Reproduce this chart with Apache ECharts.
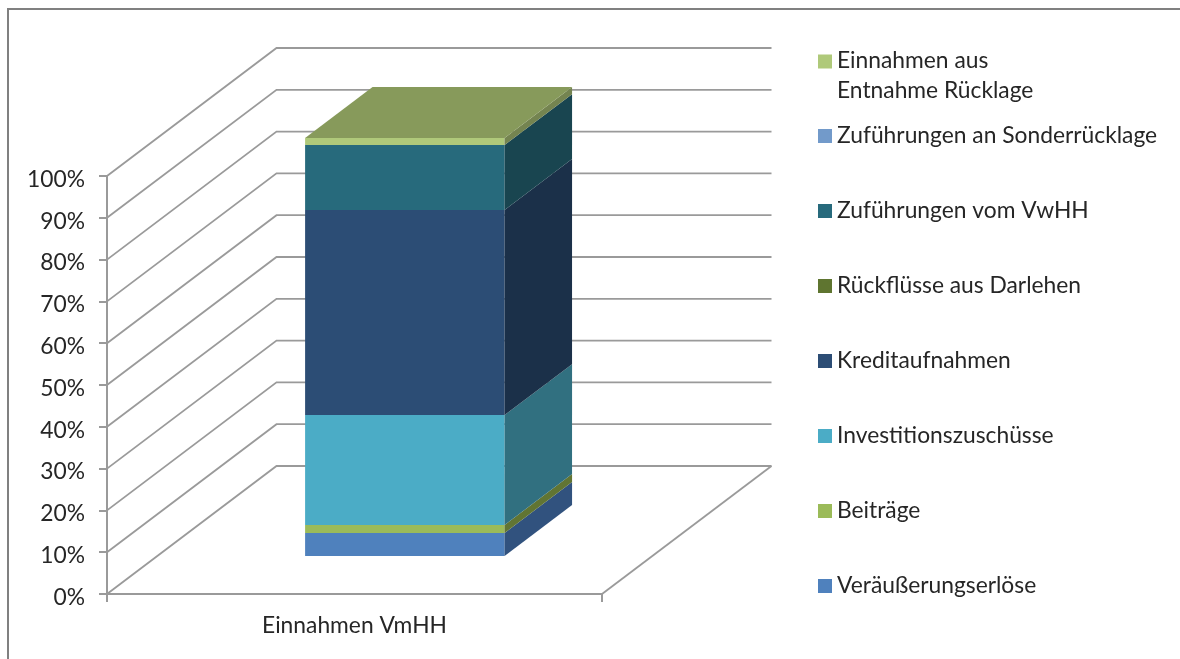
<!DOCTYPE html>
<html>
<head>
<meta charset="utf-8">
<style>html,body{margin:0;padding:0;background:#fff}#c{width:1180px;height:659px}</style>
<script src="https://cdn.jsdelivr.net/npm/echarts@6/dist/echarts.min.js"></script>
</head>
<body>
<div id="c"></div>
<script>
const categories = ['Einnahmen VmHH'];
const tickValues = [0,10,20,30,40,50,60,70,80,90,100];
const seriesNames = ['Veräußerungserlöse','Beiträge','Investitionszuschüsse','Kreditaufnahmen','Rückflüsse aus Darlehen','Zuführungen vom VwHH','Zuführungen an Sonderrücklage','Einnahmen aus\nEntnahme Rücklage'];
const seriesValues = [5.5,1.9,26.3,49.1,0,15.5,0,1.7];
const frontColors = ['#4F81BD','#9BBB59','#4BACC6','#2C4D75','#5F7530','#276A7C','#729ACA','#AFC97A'];
const sideColors = ['#31527E','#617533','#317080','#1B3049','#3F5020','#194550','#4A6A90','#748450'];
const topColor = '#879A5B';

// 3D projection of the depth axis, in pixels, and the bar's place along it
const wallDx = 169.5, wallDy = 128, barNear = 0.297, barFar = 0.695, barShare = 0.403;
const gridColor = '#9A9A9A', textColor = '#262626', fontName = 'Lato', fontSize = 22.8;

function poly(points, fill) {
  return {type:'polygon', shape:{points}, style:{fill, stroke:null}, silent:true};
}
function renderWall(params, api) {
  const p = api.coord([0, api.value(0)]);
  const x0 = p[0] - api.size([1,0])[0] / 2, x1 = x0 + api.size([1,0])[0], y = p[1];
  const style = {stroke:gridColor, lineWidth:1.8, fill:null};
  const kids = [{type:'polyline', shape:{points:[[x0,y],[x0+wallDx,y-wallDy],[x1+wallDx,y-wallDy]]}, style, silent:true}];
  if (api.value(0) === 0) kids.push({type:'line', shape:{x1:x1,y1:y,x2:x1+wallDx,y2:y-wallDy}, style, silent:true});
  return {type:'group', children:kids};
}
function renderSegment(i) {
  return function (params, api) {
    const lo = api.value(1), hi = api.value(2);
    const w = api.size([1,0])[0] * barShare, c = api.coord([api.value(0), lo]);
    const yLo = c[1], yHi = api.coord([api.value(0), hi])[1];
    const nx = wallDx*barNear, ny = wallDy*barNear, fx = wallDx*barFar, fy = wallDy*barFar;
    const xl = c[0]-w/2, xr = c[0]+w/2;
    const kids = [];
    if (hi > lo) {
      kids.push(poly([[xl+nx,yLo-ny],[xr+nx,yLo-ny],[xr+nx,yHi-ny],[xl+nx,yHi-ny]], frontColors[i]));
      kids.push(poly([[xr+nx,yLo-ny],[xr+fx,yLo-fy],[xr+fx,yHi-fy],[xr+nx,yHi-ny]], sideColors[i]));
    }
    if (i === seriesNames.length-1) {
      kids.push(poly([[xl+nx,yHi-ny],[xr+nx,yHi-ny],[xr+fx,yHi-fy],[xl+fx,yHi-fy]], topColor));
    }
    return {type:'group', children:kids};
  };
}

let running = 0;
const barSeries = seriesNames.map((name,i) => {
  const lo = running; running += seriesValues[i];
  return {type:'custom', name, coordinateSystem:'cartesian2d', clip:false, z:3,
    itemStyle:{color:frontColors[i]}, encode:{x:0,y:[1,2]},
    renderItem:renderSegment(i), data:[[0,lo,running]]};
});
const wallSeries = {type:'custom', name:'wall', coordinateSystem:'cartesian2d', clip:false, z:1, silent:true,
  encode:{y:0}, renderItem:renderWall, data:tickValues.map(v=>[v])};

const chart = echarts.init(document.getElementById('c'), null, {renderer:'canvas'});
const legendText = {fontFamily:fontName, fontSize, color:textColor};
chart.setOption({
  animation:false,
  backgroundColor:'#fff',
  tooltip:{show:false},
  grid:{left:107, width:495, top:176, height:418},
  xAxis:{type:'category', data:categories,
    axisLine:{lineStyle:{color:gridColor,width:2}},
    axisTick:{show:true,length:8,alignWithLabel:false,lineStyle:{color:gridColor,width:2}},
    axisLabel:{margin:20,fontFamily:fontName,fontSize,color:textColor}},
  yAxis:{type:'value', min:0, max:100, interval:10,
    splitLine:{show:false},
    axisLine:{show:true,lineStyle:{color:gridColor,width:2}},
    axisTick:{show:true,length:8,lineStyle:{color:gridColor,width:2}},
    axisLabel:{margin:22,verticalAlign:'top',lineHeight:7,formatter:'{value}%',fontFamily:fontName,fontSize,color:textColor}},
  legend:[
    {left:813, top:41, orient:'vertical', selectedMode:false, icon:'path://M0 0H14V14H0Z M0 43H14',
     itemWidth:14, itemHeight:43, itemGap:0,
     data:[seriesNames[7]], textStyle:{...legendText,lineHeight:30}},
    {left:813, top:119, orient:'vertical', selectedMode:false, icon:'rect',
     itemWidth:14, itemHeight:14, itemGap:51,
     data:seriesNames.slice(0,7).reverse(), textStyle:{...legendText,lineHeight:24}}
  ],
  graphic:[{type:'polyline', shape:{points:[[8,660],[8,9],[1181,9]]}, style:{stroke:'#808080',lineWidth:2,fill:null}, silent:true}],
  series:[wallSeries, ...barSeries]
});
</script>
</body>
</html>
